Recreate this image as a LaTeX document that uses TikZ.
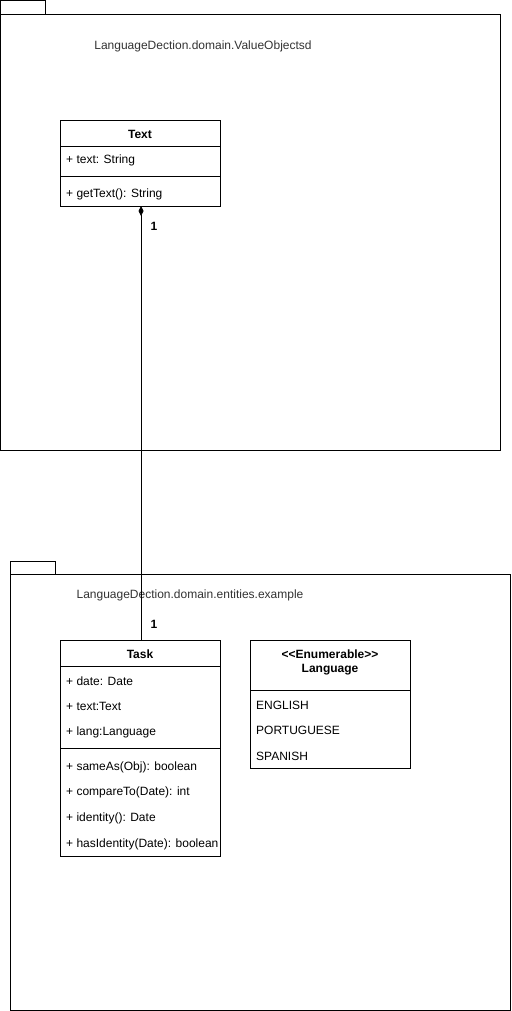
\documentclass[tikz,border=0pt]{standalone}
\usepackage{fontspec}
\setmainfont{Liberation Sans}
\usetikzlibrary{arrows.meta}
\begin{document}
\begin{tikzpicture}[x=1pt,y=-1pt,
  box/.style={draw=black,line width=0.8pt,fill=white},
  ln/.style={draw=black,line width=0.8pt},
  txt/.style={font=\fontsize{12}{14}\selectfont,inner sep=0pt,anchor=west},
  btxt/.style={font=\fontsize{12}{14}\selectfont\bfseries,inner sep=0pt},
  ptxt/.style={font=\fontsize{12}{14}\selectfont,inner sep=0pt,text=black!80}]
\useasboundingbox (0,0) rectangle (511,1011);
% package 1
\draw[box] (0.5,0.5) rectangle (45,14);
\draw[box] (0.5,14) rectangle (500,450);
\node[ptxt] (p1) at (203,46) {LanguageDection.domain.ValueObjectsd};
% package 2
\draw[box] (10,561) rectangle (55,574);
\draw[box] (10,574) rectangle (510,1010);
\node[ptxt] (p2) at (190,595) {LanguageDection.domain.entities.example};
% Text class
\node[box,minimum width=160pt,minimum height=86pt,inner sep=0pt,anchor=north west] (text) at (60,120) {};
\draw[ln] (60,146) -- (220,146);
\draw[ln] (60,176) -- (220,176);
\node[btxt] (texth) at (140,134) {Text};
\node[txt] (texta) at (66,160) {+ text: String};
\node[txt] (textm) at (66,194) {+ getText(): String};
% Task class
\node[box,minimum width=160pt,minimum height=216pt,inner sep=0pt,anchor=north west] (task) at (60,640) {};
\draw[ln] (60,666) -- (220,666);
\draw[ln] (60,748) -- (220,748);
\node[btxt] (taskh) at (140,654) {Task};
\node[txt] (ta1) at (66,681) {+ date: Date};
\node[txt] (ta2) at (66,706) {+ text:Text};
\node[txt] (ta3) at (66,732) {+ lang:Language};
\node[txt] (tm1) at (66,767) {+ sameAs(Obj): boolean};
\node[txt] (tm2) at (66,792) {+ compareTo(Date): int};
\node[txt] (tm3) at (66,818) {+ identity(): Date};
\node[txt] (tm4) at (66,844) {+ hasIdentity(Date): boolean};
% Language enum
\node[box,minimum width=160pt,minimum height=128pt,inner sep=0pt,anchor=north west] (lang) at (250,640) {};
\draw[ln] (250,690) -- (410,690);
\node[btxt,align=center] (langh) at (330,662) {{<}{<}Enumerable{>}{>}\\Language};
\node[txt] (l1) at (256,705) {ENGLISH};
\node[txt] (l2) at (256,730) {PORTUGUESE};
\node[txt] (l3) at (256,756) {SPANISH};
% composition
\coordinate (a) at (141,206);
\coordinate (b) at (141,640);
\draw[line width=0.8pt,{Diamond[length=10pt,width=5pt,fill=black]}-] (a) -- (b);
\node[btxt] (m1) at (154,226) {1};
\node[btxt] (m2) at (154,624) {1};
\end{tikzpicture}
\end{document}
